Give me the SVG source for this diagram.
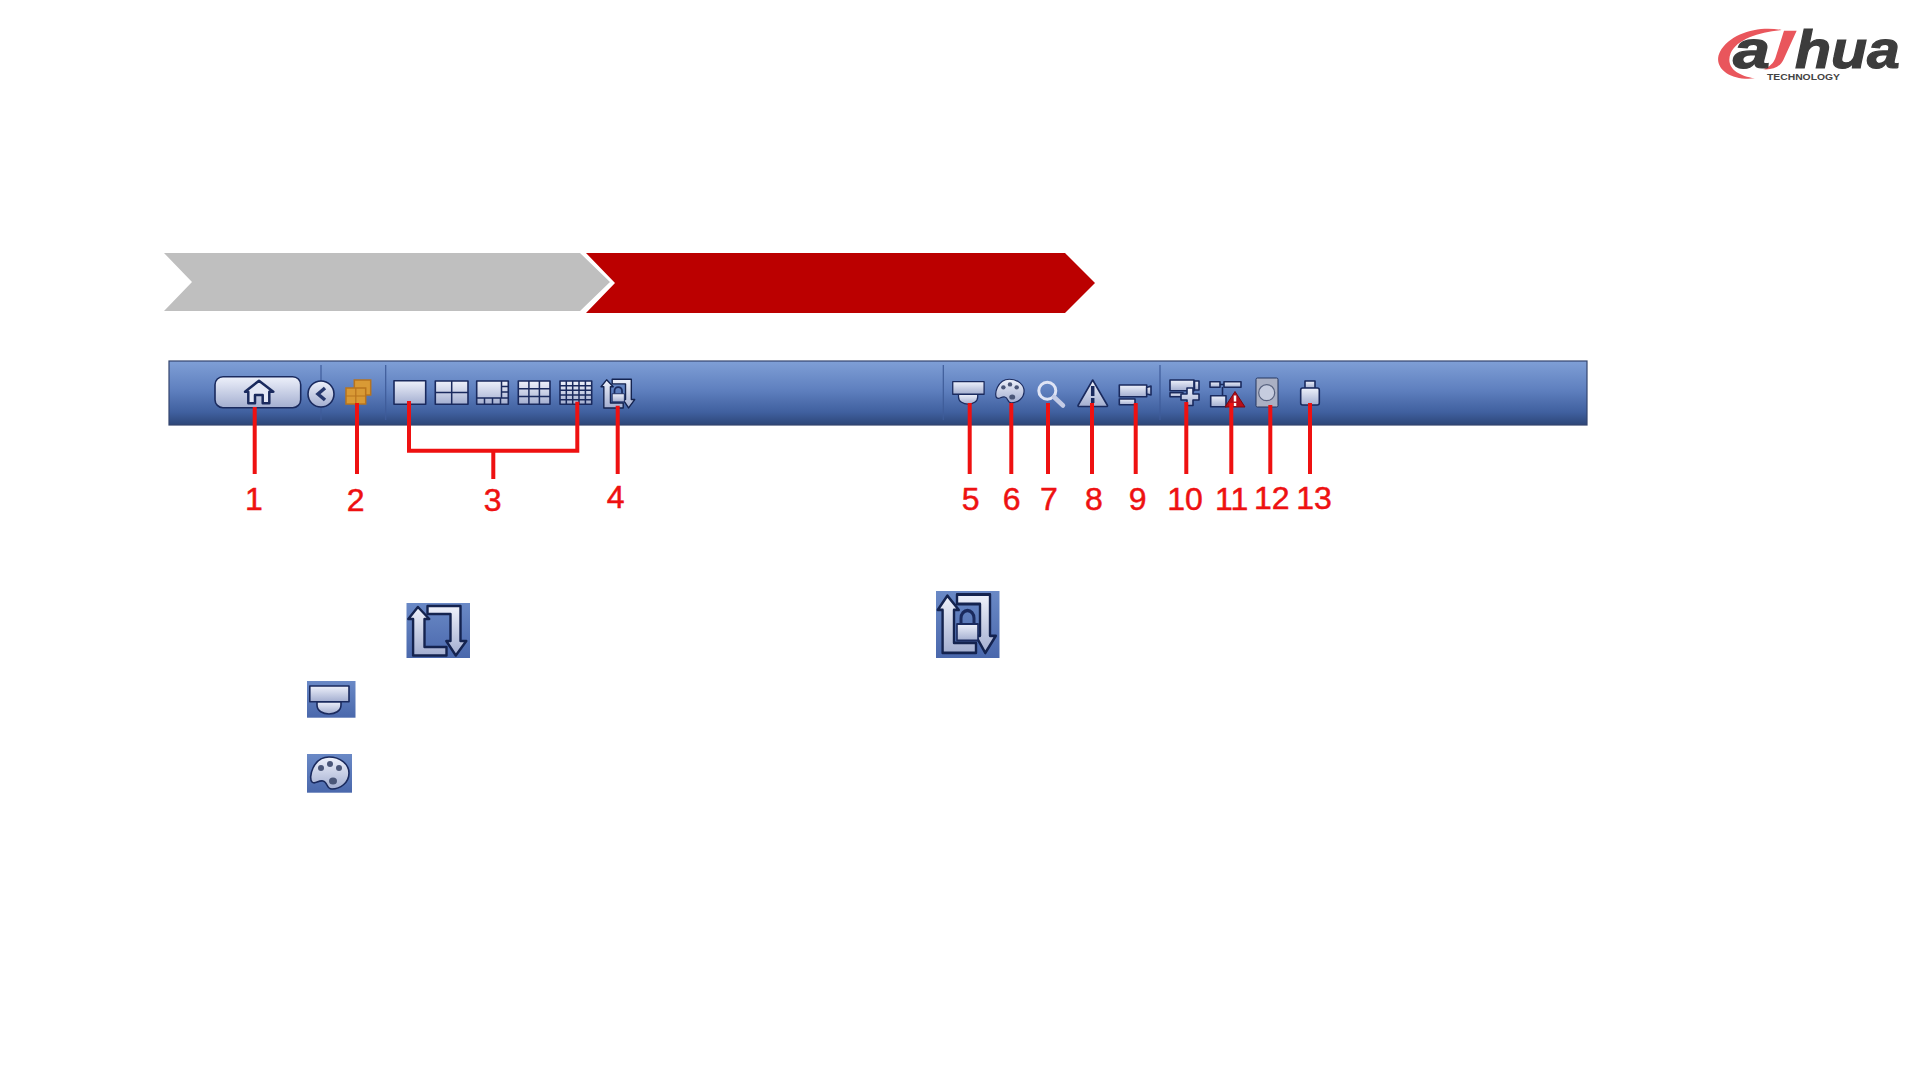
<svg xmlns="http://www.w3.org/2000/svg" xmlns:xlink="http://www.w3.org/1999/xlink" width="1920" height="1080" viewBox="0 0 1920 1080">
<style>
.lead{fill:none;stroke:#ee1111;stroke-width:4}
.num{font-family:"Liberation Sans",Arial,sans-serif;font-size:32px;fill:#ee1111;stroke:#ee1111;stroke-width:.5;text-anchor:middle}
.ic{fill:url(#icon);stroke:#1a2a5e;stroke-width:1.6;stroke-linejoin:round}
.rot{fill:url(#icon);stroke:#14234f;stroke-width:2.400;stroke-linejoin:round}
.thin{fill:none;stroke:#1a2a5e;stroke-width:1.5}
.sep{stroke:#3f5c9a;stroke-width:1.2}
.dot{fill:#4a5678}
.logo{font-family:"Liberation Sans",Arial,sans-serif;font-weight:700;font-style:italic;font-size:54px;fill:#3c3c3c;stroke:#3c3c3c;stroke-width:1.2}
</style>
<defs>
<linearGradient id="bar" x1="0" y1="0" x2="0" y2="1"><stop offset="0" stop-color="#7f9fd6"/><stop offset=".45" stop-color="#5f80bf"/><stop offset=".8" stop-color="#40609f"/><stop offset="1" stop-color="#2d4678"/></linearGradient>
<linearGradient id="icon" x1="0" y1="0" x2="0" y2="1"><stop offset="0" stop-color="#eef1fb"/><stop offset="1" stop-color="#a3aed0"/></linearGradient>
<linearGradient id="tile" x1="0" y1="0" x2="0" y2="1"><stop offset="0" stop-color="#6a89c6"/><stop offset="1" stop-color="#4a68ac"/></linearGradient>
<g id="rotate">
<path class="rot" d="M11.400 4L22.800 16H18V44H40V52.500H6.600V16H1.800Z"/>
<path class="rot" d="M49.300 52.500L39.800 38H44V11H21V3H54V38H59.800Z"/>
</g>
<g id="lock">
<path d="M25 28V23a6.500 6.500 0 0 1 13 0V28" fill="none" stroke="#1a2a5e" stroke-width="3"/>
<rect class="ic" x="21" y="28" width="21" height="14"/>
</g>
<g id="dome">
<path class="ic" d="M10 20.700H34V24C34 30 28 33 22 33S10 30 10 24Z"/>
<rect class="ic" x="2.800" y="5" width="39.200" height="15.700"/>
</g>
<g id="palette">
<path class="ic" d="M22 3C33 3 42 10 42 19C42 29 33 35 25 35C19 35 21 28 16 27C11 26 8 31 5 28C1 24 6 3 22 3Z"/>
<circle class="dot" cx="14" cy="14" r="3"/><circle class="dot" cx="23" cy="10" r="3"/><circle class="dot" cx="32" cy="14" r="3"/><ellipse class="dot" cx="26" cy="27" rx="4" ry="3.500"/>
</g>
</defs>
<rect width="1920" height="1080" fill="#fff"/>

<g id="logo" transform="translate(1700 10) scale(.3333)">
<path fill="#e9565c" d="M245 60C180 46 90 68 60 125C36 172 90 214 165 205C110 197 76 170 92 130C110 86 180 66 245 60Z"/>
<path fill="#e9565c" d="M252 62H290L250 150C240 172 215 180 190 178C210 170 220 160 226 145Z"/>
<text class="logo" transform="scale(3)" x="33" y="58" textLength="37" lengthAdjust="spacingAndGlyphs">a</text>
<text class="logo" transform="scale(3)" x="95" y="58" textLength="105" lengthAdjust="spacingAndGlyphs">hua</text>
<text transform="scale(3)" x="67" y="70.500" textLength="73" lengthAdjust="spacingAndGlyphs" font-family="'Liberation Sans',Arial,sans-serif" font-weight="700" font-size="9" fill="#444">TECHNOLOGY</text>
</g>

<g id="step-1"><path fill="#bfbfbf" d="M164 253H580L610 282L580 311H164L192 282Z"/></g>
<g id="step-2"><path fill="#bb0000" d="M586 253H1065L1095 283L1065 313H586L615 283Z"/></g>

<g id="toolbar">
<rect x="169" y="361" width="1418" height="64" fill="url(#bar)" stroke="#34456e" stroke-width="1.200"/>
<path class="sep" d="M321 365V420M385.700 365V420M943.300 365V420M1160 365V420"/>
</g>

<g id="btn-home">
<rect class="ic" x="215" y="376.700" width="85.700" height="31" rx="8"/>
<path fill="#e4e8f6" stroke="#1a2a5e" stroke-width="2.500" stroke-linejoin="round" d="M245 391.700L259 380.700L273.300 391.700H269.300V403.300H262.700V395H255V403.300H248.300V391.700Z"/>
</g>
<g id="btn-back">
<circle class="ic" cx="321" cy="394" r="13"/>
<path fill="none" stroke="#26386e" stroke-width="3.500" d="M325 388L318 394L325 400"/>
</g>
<g id="btn-multi" fill="#d99a35" stroke="#b8741e" stroke-width="1.500">
<rect x="354.300" y="380" width="16.400" height="15"/>
<rect x="346" y="388" width="19.700" height="16"/>
<path d="M346 396H365.700M355.800 388V404" stroke-width="1.200"/>
</g>

<g id="layout-1"><rect class="ic" x="394" y="380.700" width="31.700" height="23.600"/></g>
<g id="layout-4"><rect class="ic" x="435.300" y="381" width="32.700" height="23.300"/><path class="thin" d="M435.300 392.600H468M451.700 381V404.300"/></g>
<g id="layout-8"><rect class="ic" x="476.700" y="381" width="31.600" height="23.300"/><path class="thin" d="M476.700 398H508.300M501.500 381V398M501.500 386.500H508.300M501.500 392H508.300M484.500 398V404.300M492.500 398V404.300M500.500 398V404.300"/></g>
<g id="layout-9"><rect class="ic" x="518.300" y="381" width="31.700" height="23.300"/><path class="thin" d="M518.300 388.800H550M518.300 396.500H550M528.900 381V404.300M539.400 381V404.300"/></g>
<g id="layout-16"><rect class="ic" x="560" y="381" width="31.700" height="23.300"/><path class="thin" d="M560 385.700H591.700M560 390.300H591.700M560 395H591.700M560 399.700H591.700M566.300 381V404.300M572.700 381V404.300M579 381V404.300M585.400 381V404.300"/></g>
<g id="btn-lock" transform="translate(600 377.500) scale(.58)"><use xlink:href="#rotate" href="#rotate"/><use xlink:href="#lock" href="#lock"/></g>

<g id="btn-camera-dome" transform="translate(950.500 377.700) scale(.8)"><use xlink:href="#dome" href="#dome"/></g>
<g id="btn-palette" transform="translate(993 377) scale(.74)"><use xlink:href="#palette" href="#palette"/></g>
<g id="btn-search">
<circle cx="1047.300" cy="390.700" r="8.500" fill="none" stroke="#dfe4f5" stroke-width="3"/>
<path d="M1054 397L1063 405.500" stroke="#c4cce6" stroke-width="4.500" stroke-linecap="round"/>
</g>
<g id="btn-alarm">
<path class="ic" d="M1092.700 380L1107.500 405.500A1 1 0 0 1 1107 406.500H1078.500A1 1 0 0 1 1078 405.500Z"/>
<path d="M1092.700 386V396M1092.700 398V403" stroke="#1a2a5e" stroke-width="3.500"/>
</g>
<g id="btn-camera">
<rect class="ic" x="1119.300" y="385" width="27.400" height="11.700"/>
<path class="ic" d="M1146.700 387.500L1151 386V395L1146.700 394Z"/>
<rect class="ic" x="1119.300" y="399" width="15.700" height="5.700"/>
</g>
<g id="btn-record">
<rect class="ic" x="1170" y="380" width="24" height="10.700"/>
<rect class="ic" x="1194.500" y="381" width="4.500" height="9"/>
<rect class="ic" x="1170" y="392.700" width="13" height="4"/>
<path class="ic" d="M1187 388H1193V394H1199V400H1193V405.500H1187V400H1181V394H1187Z"/>
</g>
<g id="btn-network">
<rect class="ic" x="1210" y="381.700" width="10" height="5.500"/>
<rect class="ic" x="1224" y="381.700" width="17" height="5.500"/>
<path class="ic" d="M1220 384.500H1224M1222.500 387V396"/>
<rect class="ic" x="1210.700" y="395.700" width="15.300" height="11"/>
<path d="M1235 391.500L1245 407H1225Z" fill="#b80f1a" stroke="#7a0a10" stroke-width="1" stroke-linejoin="round"/>
<path d="M1235 395.500V401.500M1235 403V406" stroke="#fff" stroke-width="2.500"/>
</g>
<g id="btn-disk">
<rect x="1256" y="378" width="22" height="29" rx="1.500" fill="#aab0c4" stroke="#26365f" stroke-width="1"/>
<circle cx="1266.700" cy="392.700" r="8" fill="#c6ccdf" stroke="#58627f" stroke-width="1.200"/>
</g>
<g id="btn-usb">
<rect class="ic" x="1305" y="381" width="10" height="7.500"/>
<rect class="ic" x="1300.700" y="388" width="18.600" height="17" rx="2"/>
</g>

<g id="connectors">
<path class="lead" d="M254.700 407V474M357 403V474M617.700 405.700V474"/>
<path class="lead" d="M409 401V450.700H577.300V401.700M493.300 450.700V479"/>
<path class="lead" d="M969.700 403V474M1011.300 403V474M1048 403V474M1092 403V474M1135.700 403V474M1186.300 402V474M1231.300 403V474M1270.300 405V474M1310 403V474"/>
</g>

<g id="labels">
<text class="num" x="254" y="510">1</text>
<text class="num" x="355.700" y="511">2</text>
<text class="num" x="492.700" y="511">3</text>
<text class="num" x="615.700" y="508">4</text>
<text class="num" x="970.700" y="510">5</text>
<text class="num" x="1011.700" y="510">6</text>
<text class="num" x="1049" y="510">7</text>
<text class="num" x="1094" y="510">8</text>
<text class="num" x="1137.700" y="510">9</text>
<text class="num" x="1185" y="510">10</text>
<text class="num" x="1231.700" y="510">11</text>
<text class="num" x="1271.700" y="509">12</text>
<text class="num" x="1314" y="509">13</text>
</g>

<g id="icon-rotate" transform="translate(406.500 603)">
<rect width="63.500" height="55" fill="url(#tile)"/><use xlink:href="#rotate" href="#rotate"/>
</g>
<g id="icon-rotate-lock" transform="translate(936 591)">
<rect width="63.500" height="67" fill="url(#tile)"/><g transform="scale(1 1.180)"><use xlink:href="#rotate" href="#rotate"/><use xlink:href="#lock" href="#lock"/></g>
</g>
<g id="icon-dome" transform="translate(307 681)">
<rect width="48.500" height="36.700" fill="url(#tile)"/><use xlink:href="#dome" href="#dome"/>
</g>
<g id="icon-palette" transform="translate(307 754)">
<rect width="45" height="38.700" fill="url(#tile)"/><use xlink:href="#palette" href="#palette"/>
</g>
</svg>
